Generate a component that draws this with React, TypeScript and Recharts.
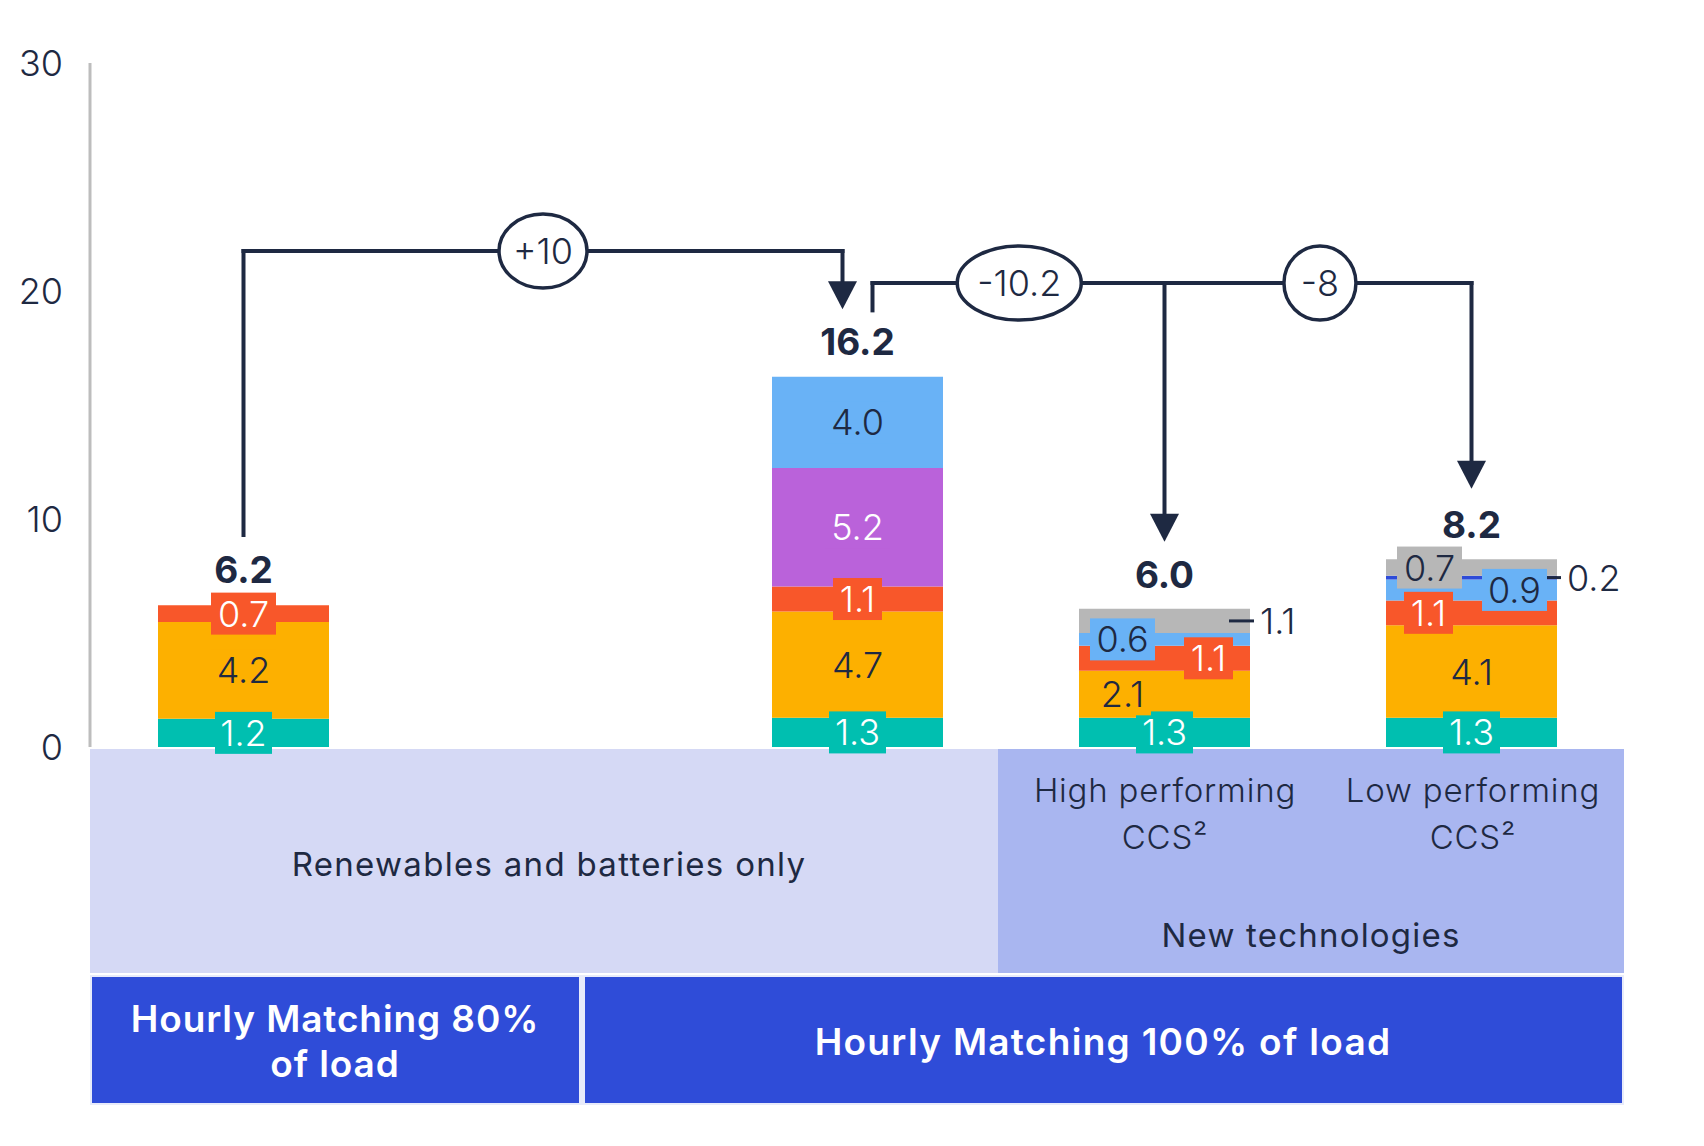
import React from "react";
import { BarChart, Bar, XAxis, YAxis, ReferenceLine, ReferenceDot } from "recharts";

// ---- data ----
const categories = [
  "Hourly 80%",
  "gap",
  "Hourly 100%",
  "High performing CCS",
  "Low performing CCS",
];
const teal = [1.24, 0, 1.28, 1.28, 1.28];
const yellow = [4.24, 0, 4.66, 2.06, 4.06];
const red = [0.74, 0, 1.1, 1.1, 1.09];
const purple = [0, 0, 5.2, 0, 0];
const blue = [0, 0, 4.0, 0.56, 0.92];
const navy = [0, 0, 0, 0, 0.16];
const gray = [0, 0, 0, 1.06, 0.72];
const totals = [6.2, null, 16.2, 6.0, 8.2];
const yTicks = [0, 10, 20, 30];

const INK = "#1E2942";
const FONT = "Inter, 'Noto Sans', sans-serif";
const BAR_SIZE = 171;

const series = [
  { key: "teal", values: teal, fill: "#00BFB0", ink: "#FFFFFF" },
  { key: "yellow", values: yellow, fill: "#FDB000", ink: INK },
  { key: "red", values: red, fill: "#F8572A", ink: "#FFFFFF" },
  { key: "purple", values: purple, fill: "#BA62DA", ink: "#FFFFFF" },
  { key: "blue", values: blue, fill: "#69B2F6", ink: INK },
  { key: "navy", values: navy, fill: "#2E4BD8", ink: INK },
  { key: "gray", values: gray, fill: "#B7B7B7", ink: INK },
];

const rows = categories.map((name, i) => {
  const row: Record<string, string | number> = { name };
  series.forEach((s) => {
    row[s.key] = s.values[i];
  });
  return row;
});

// horizontal nudges (px) so labels in the thin CCS segments don't collide
const labelShift: Record<string, number[]> = {
  yellow: [0, 0, 0, -42, 0],
  red: [0, 0, 0, 44, -43],
  blue: [0, 0, 0, -42, 43],
  gray: [0, 0, 0, 0, -42],
};
// labels drawn outside the bar with a leader line (series -> category index -> leader px)
const outside: Record<string, Record<number, number>> = {
  gray: { 3: 25 },
  navy: { 4: 14 },
};

// one label per visible segment, placed at the segment's middle value
const segLabels: { cat: string; i: number; s: (typeof series)[number]; v: number; mid: number }[] = [];
categories.forEach((cat, i) => {
  let base = 0;
  series.forEach((s) => {
    const v = s.values[i];
    if (v > 0) segLabels.push({ cat, i, s, v, mid: base + v / 2 });
    base += v;
  });
});

// bridge connectors between bars
const bridges = [
  { from: 0, to: 2, level: 21.75, dxFrom: 0, dxTo: -15, bubbles: [{ text: "+10", at: 0.5, rx: 44 }] },
  {
    from: 2,
    to: 4,
    level: 20.35,
    dxFrom: 15,
    dxTo: 0,
    bubbles: [
      { text: "-10.2", at: 0.245, rx: 62 },
      { text: "-8", at: 0.747, rx: 36 },
    ],
  },
];
const legs = [
  { cat: 0, from: 9.3, to: 21.75, dx: 0, arrow: false },
  { cat: 2, from: 21.75, to: 19.2, dx: -15, arrow: true },
  { cat: 2, from: 19.15, to: 20.35, dx: 15, arrow: false },
  { cat: 3, from: 20.35, to: 9.0, dx: 0, arrow: true },
  { cat: 4, from: 20.35, to: 11.33, dx: 0, arrow: true },
];

const LABEL_SIZE = 36;
const glyphW = (c: string) => (c === "." ? 9 : c === "1" ? 12 : 20);
const boxWidth = (t: string) => t.split("").reduce((w, c) => w + glyphW(c), 0) + 16;

const labelText = (x: number, y: number, text: string, fill: string, anchor = "middle") => (
  <text
    x={x}
    y={y}
    textAnchor={anchor as any}
    dominantBaseline="central"
    fontSize={LABEL_SIZE}
    fontFamily={FONT}
    fontWeight={300}
    fill={fill}
  >
    {text}
  </text>
);

const segmentShape = (l: (typeof segLabels)[number]) => (p: any) => {
  const text = l.v.toFixed(1);
  const cy = p.cy;
  const lead = outside[l.s.key]?.[l.i];
  if (lead) {
    const edge = p.cx + BAR_SIZE / 2;
    return (
      <g>
        <line x1={edge - lead + 4} x2={edge + 4} y1={cy} y2={cy} stroke={INK} strokeWidth={3} />
        {labelText(edge + 10, cy, text, INK, "start")}
      </g>
    );
  }
  const cx = p.cx + (labelShift[l.s.key]?.[l.i] ?? 0);
  const bw = boxWidth(text);
  return (
    <g>
      <rect x={cx - bw / 2} y={cy - 21} width={bw} height={42} fill={l.s.fill} />
      {labelText(cx, cy, text, l.s.ink)}
    </g>
  );
};

const bridgeShape = (b: (typeof bridges)[number]) => (p: any) => {
  const x1 = p.x1 + b.dxFrom;
  const x2 = p.x2 + b.dxTo;
  const y = p.y1;
  return (
    <g>
      <line x1={x1} x2={x2} y1={y} y2={y} stroke={INK} strokeWidth={4} strokeLinecap="square" />
      {b.bubbles.map((bb) => {
        const cx = x1 + bb.at * (x2 - x1);
        return (
          <g key={bb.text}>
            <ellipse cx={cx} cy={y} rx={bb.rx} ry={37} fill="#FFFFFF" stroke={INK} strokeWidth={3.5} />
            <text
              x={cx}
              y={y}
              textAnchor="middle"
              dominantBaseline="central"
              fontSize={36}
              fontFamily={FONT}
              fontWeight={300}
              fill={INK}
            >
              {bb.text}
            </text>
          </g>
        );
      })}
    </g>
  );
};

const legShape = (g: (typeof legs)[number]) => (p: any) => {
  const x = p.x1 + g.dx;
  const tip = p.y2;
  const dir = tip > p.y1 ? 1 : -1;
  const end = g.arrow ? tip - dir * 24 : tip;
  return (
    <g>
      <line x1={x} x2={x} y1={p.y1} y2={end} stroke={INK} strokeWidth={4} strokeLinecap="square" />
      {g.arrow && (
        <path d={`M${x - 14.5},${tip - 28} L${x + 14.5},${tip - 28} L${x},${tip} Z`} fill={INK} />
      )}
    </g>
  );
};

const band: React.CSSProperties = { position: "absolute" };
const centered = (x: number, y: number, extra?: React.CSSProperties) =>
  ({
    position: "absolute",
    left: x,
    top: y,
    transform: "translate(-50%, -50%)",
    whiteSpace: "pre",
    textAlign: "center",
    ...extra,
  }) as React.CSSProperties;

export default function App() {
  return (
    <div
      style={{
        position: "absolute",
        left: 0,
        top: 0,
        width: 1704,
        height: 1146,
        background: "#FFFFFF",
        fontFamily: FONT,
        color: INK,
        overflow: "hidden",
      }}
    >
      {/* category header bands under the axis */}
      <div style={{ ...band, left: 90, top: 749, width: 908, height: 224, background: "#D5D9F5" }} />
      <div style={{ ...band, left: 998, top: 749, width: 626, height: 224, background: "#A9B6F0" }} />
      <div style={centered(549, 864, { fontSize: 33, letterSpacing: 1.3 })}>
        Renewables and batteries only
      </div>
      <div style={centered(1165, 814, { fontSize: 33, lineHeight: "47px", fontWeight: 300, letterSpacing: 0.8 })}>
        {"High performing\nCCS²"}
      </div>
      <div style={centered(1473, 814, { fontSize: 33, lineHeight: "47px", fontWeight: 300, letterSpacing: 0.8 })}>
        {"Low performing\nCCS²"}
      </div>
      <div style={centered(1311, 935, { fontSize: 33, letterSpacing: 1.2 })}>New technologies</div>

      <div style={{ ...band, left: 90, top: 975, width: 1534, height: 130, background: "#E8EBFA" }} />
      <div style={{ ...band, left: 92, top: 977, width: 487, height: 126, background: "#2F4CD8" }} />
      <div style={{ ...band, left: 585, top: 977, width: 1037, height: 126, background: "#2F4CD8" }} />
      <div
        style={centered(335, 1041, {
          fontSize: 37,
          fontWeight: 600,
          lineHeight: "45px",
          letterSpacing: 0.9,
          color: "#FFFFFF",
        })}
      >
        {"Hourly Matching 80%\nof load"}
      </div>
      <div style={centered(1103, 1041, { fontSize: 37, fontWeight: 600, letterSpacing: 1.3, color: "#FFFFFF" })}>
        Hourly Matching 100% of load
      </div>

      <div style={{ position: "absolute", left: 0, top: 0 }}>
        <BarChart
          width={1704}
          height={770}
          data={rows}
          margin={{ top: 63, right: 79, bottom: 23, left: 0 }}
        >
          <XAxis
            dataKey="name"
            tick={false}
            tickLine={false}
            height={0}
            axisLine={{ stroke: "#BDBDBD", strokeWidth: 3 }}
          />
          <YAxis
            domain={[0, 30]}
            ticks={yTicks}
            interval={0}
            width={90}
            tickLine={false}
            tickSize={0}
            tickMargin={27}
            axisLine={{ stroke: "#BDBDBD", strokeWidth: 3 }}
            tick={{ fill: INK, fontSize: 36, fontFamily: FONT, fontWeight: 300 }}
          />
          {series.map((s) => (
            <Bar
              key={s.key}
              dataKey={s.key}
              stackId="total"
              fill={s.fill}
              barSize={BAR_SIZE}
              isAnimationActive={false}
            />
          ))}

          {legs.map((g, i) => (
            <ReferenceLine
              key={`leg${i}`}
              segment={[
                { x: categories[g.cat], y: g.from },
                { x: categories[g.cat], y: g.to },
              ]}
              ifOverflow="visible"
              shape={legShape(g)}
            />
          ))}
          {bridges.map((b, i) => (
            <ReferenceLine
              key={`bridge${i}`}
              segment={[
                { x: categories[b.from], y: b.level },
                { x: categories[b.to], y: b.level },
              ]}
              ifOverflow="visible"
              shape={bridgeShape(b)}
            />
          ))}

          {segLabels.map((l) => (
            <ReferenceDot
              key={`${l.s.key}-${l.i}`}
              x={l.cat}
              y={l.mid}
              r={0}
              ifOverflow="visible"
              shape={segmentShape(l)}
            />
          ))}

          {totals.map((t, i) =>
            t == null ? null : (
              <ReferenceDot
                key={`t${i}`}
                x={categories[i]}
                y={t}
                r={0}
                ifOverflow="visible"
                shape={(p: any) => (
                  <text
                    x={p.cx}
                    y={p.cy - 36}
                    textAnchor="middle"
                    dominantBaseline="central"
                    fontSize={37}
                    fontWeight={700}
                    fontFamily={FONT}
                    fill={INK}
                  >
                    {t.toFixed(1)}
                  </text>
                )}
              />
            )
          )}
        </BarChart>
      </div>
    </div>
  );
}
